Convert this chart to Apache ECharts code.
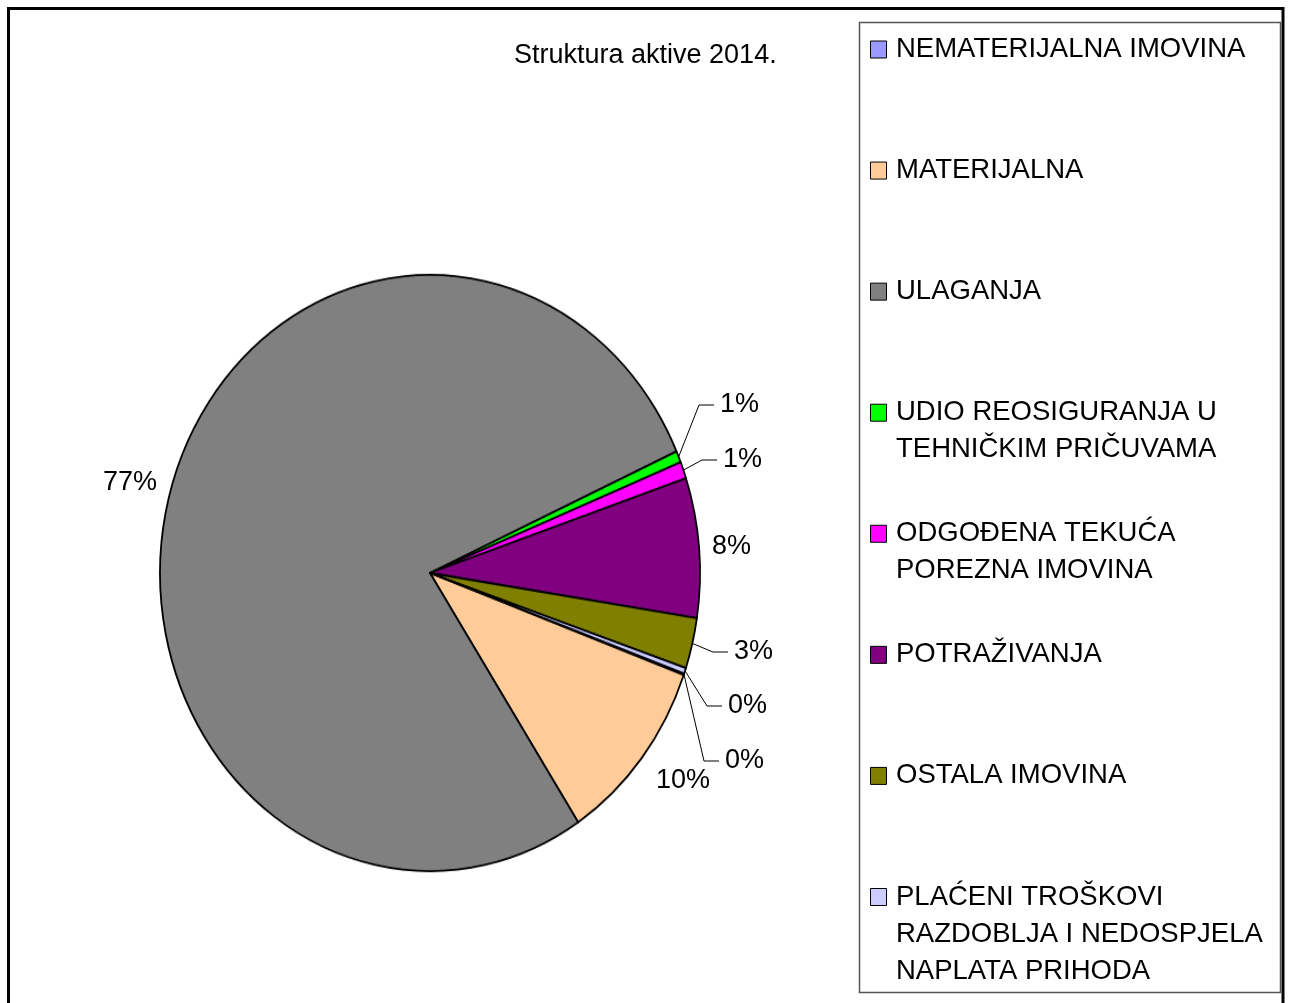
<!DOCTYPE html>
<html>
<head>
<meta charset="utf-8">
<title>Struktura aktive 2014.</title>
<script src="https://cdn.jsdelivr.net/npm/echarts@6/dist/echarts.min.js"></script>
<style>
  html, body { margin: 0; padding: 0; background: #fff; }
  .stage { position: relative; width: 1290px; height: 1003px; overflow: hidden; }
  #main, #pie { position: absolute; left: 0; top: 0; width: 1290px; height: 1003px; }
  /* the original pie is an ellipse, a bit taller than wide */
  #pie { transform: scaleY(1.104); transform-origin: 430px 573px; }
</style>
</head>
<body>
<div class="stage">
  <div id="main"></div>
  <div id="pie"></div>
</div>
<script>
  const categories = [
    'NEMATERIJALNA IMOVINA',
    'MATERIJALNA',
    'ULAGANJA',
    'UDIO REOSIGURANJA U\nTEHNIČKIM PRIČUVAMA',
    'ODGOĐENA TEKUĆA\nPOREZNA IMOVINA',
    'POTRAŽIVANJA',
    'OSTALA IMOVINA',
    'PLAĆENI TROŠKOVI\nRAZDOBLJA I NEDOSPJELA\nNAPLATA PRIHODA'
  ]
  // udio u % (procjena s grafa)
  const values = [0.09, 10.19, 77.56, 0.63, 0.9, 7.58, 2.75, 0.3]
  const colors = ['#9999FF', '#FFCC99', '#808080', '#00FF00', '#FF00FF', '#800080', '#808000', '#CCCCFF']

  // where the percentage labels sit on the page
  const labelAnchors = [
    {x: 725, y: 761, line: true},
    {x: 656, y: 781},
    {x: 157, y: 483, align: 'right'},
    {x: 720, y: 405, line: true},
    {x: 723, y: 460, line: true},
    {x: 712, y: 547},
    {x: 734, y: 652, line: true},
    {x: 728, y: 706, line: true}
  ]

  const FONT = "'Liberation Sans', Arial, sans-serif"
  const CX = 430, CY = 573, R = 270, SCALE_Y = 1.104
  const START_ANGLE = -19.7

  const pieChart = echarts.init(document.getElementById('pie'))
  const mainChart = echarts.init(document.getElementById('main'))

  pieChart.setOption({
    backgroundColor: 'transparent',
    animation: false,
    series: [{
      type: 'pie',
      center: [CX, CY],
      radius: R,
      startAngle: START_ANGLE,
      silent: true,
      label: {show: false},
      labelLine: {show: false},
      itemStyle: {borderColor: '#000', borderWidth: 1.8},
      data: categories.map((name, i) => ({
        name: name,
        value: values[i],
        itemStyle: {color: colors[i]}
      }))
    }]
  })

  // legend, drawn by hand so the multi-line names line up like the original
  let legendItems = []
  categories.forEach((name, i) => {
    const cy = 49.5 + i * 121.07
    legendItems.push({
      type: 'rect',
      shape: {x: 870.5, y: cy - 8.5, width: 16, height: 17},
      style: {fill: colors[i], stroke: '#000', lineWidth: 1}
    })
    legendItems.push({
      type: 'text',
      x: 896,
      y: cy - 18.5,
      style: {
        text: name,
        font: '27.5px ' + FONT,
        fill: '#000',
        lineHeight: 37,
        verticalAlign: 'top',
        align: 'left'
      }
    })
  })

  mainChart.setOption({
    backgroundColor: '#fff',
    animation: false,
    title: {
      text: 'Struktura aktive 2014.',
      left: 514,
      top: 40,
      padding: 0,
      textStyle: {fontFamily: FONT, fontSize: 27, fontWeight: 'normal', color: '#000', lineHeight: 32}
    },
    graphic: [
      {
        type: 'rect',
        shape: {x: 8.5, y: 8.5, width: 1274.5, height: 1100},
        style: {fill: 'none', stroke: '#000', lineWidth: 3}
      },
      {
        type: 'rect',
        shape: {x: 859.5, y: 22.5, width: 421, height: 970},
        style: {fill: 'none', stroke: '#555', lineWidth: 1.5}
      }
    ].concat(legendItems),
    series: [{
      // same slices, invisible, only used for the % labels and leader lines
      type: 'pie',
      center: [CX, CY],
      radius: R,
      startAngle: START_ANGLE,
      percentPrecision: 0,
      silent: true,
      avoidLabelOverlap: false,
      emphasis: {disabled: true},
      itemStyle: {color: 'rgba(0,0,0,0)', borderWidth: 0},
      label: {
        show: true,
        position: 'outside',
        formatter: '{d}%',
        fontFamily: FONT,
        fontSize: 27,
        color: '#000'
      },
      labelLine: {
        show: true,
        smooth: false,
        lineStyle: {color: '#000', width: 1}
      },
      labelLayout: function (params) {
        const a = labelAnchors[params.dataIndex]
        let out = {x: a.x, y: a.y, align: a.align || 'left', verticalAlign: 'middle'}
        const pts = params.labelLinePoints
        if (a.line && pts && pts.length) {
          const start = [pts[0][0], CY + (pts[0][1] - CY) * SCALE_Y]
          out.labelLinePoints = [start, [a.x - 21, a.y], [a.x - 6, a.y]]
        }
        return out
      },
      data: categories.map((name, i) => ({
        name: name,
        value: values[i],
        labelLine: {show: !!labelAnchors[i].line}
      }))
    }]
  })
</script>
</body>
</html>
